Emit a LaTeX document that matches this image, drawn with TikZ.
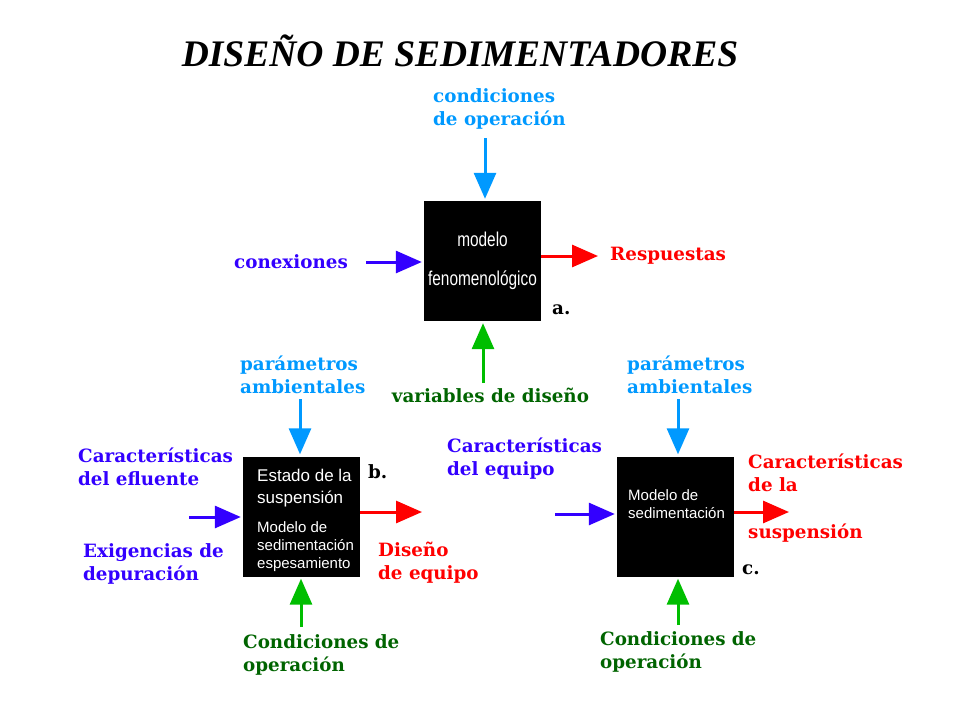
\documentclass[tikz,border=0pt]{standalone}
\usepackage{fontspec}
\usepackage{graphicx}
\setmainfont{DejaVu Serif}
\setsansfont{Liberation Sans}
\newfontfamily\titlefont{Liberation Serif}
\usetikzlibrary{arrows.meta}
\definecolor{paramColour}{RGB}{0,153,255}
\definecolor{inputColour}{RGB}{51,0,255}
\definecolor{outputColour}{RGB}{255,0,0}
\definecolor{designColour}{RGB}{0,190,0}
\definecolor{designText}{RGB}{0,100,0}
\tikzset{
	modelbox/.style={fill=black, minimum width=117pt, minimum height=120pt, inner sep=0pt},
	flow/.style={-{Triangle[length=26pt,width=22pt]}, line width=3pt, shorten >=2pt},
	lbl/.style={font=\bfseries\fontsize{18.3}{23}\selectfont, align=left, inner sep=0pt, anchor=west},
	boxtext/.style={text=white, align=left, inner sep=0pt, anchor=west}
}

\begin{document}
\begin{tikzpicture}[x=1pt, y=-1pt]
		\useasboundingbox (0,0) rectangle (960,720);

		% the title
		\node[font=\titlefont\bfseries\itshape\fontsize{37.5}{37.5}\selectfont] (title) at (460,51) {DISEÑO DE SEDIMENTADORES};

		% model a
		\node[modelbox, text=white, align=center, font=\sffamily\fontsize{20}{39}\selectfont] (boxa) at (482.5,261)
			{\scalebox{0.77}[1]{modelo}\\\scalebox{0.77}[1]{fenomenológico}};
		\node[lbl, text=paramColour] (condA) at (433,108.5) {condiciones\\ de operación};
		\node[lbl, text=inputColour] (conexA) at (234,262) {conexiones};
		\node[lbl, text=outputColour] (respA) at (610,256) {Respuestas};
		\node[lbl, text=designText, anchor=center] (varA) at (490.5,395) {variables de diseño};
		\node[lbl] (labA) at (552,310) {a.};
		\coordinate (a-top) at (485,138);
		\coordinate (a-left) at (366,262);
		\coordinate (a-right) at (598,256);
		\coordinate (a-bottom) at (483,383);
		\draw[flow, paramColour] (a-top) -- (a-top |- boxa.north);
		\draw[flow, inputColour] (a-left) -- (a-left -| boxa.west);
		\draw[flow, outputColour, shorten >=0pt] (a-right -| boxa.east) -- (a-right);
		\draw[flow, designColour] (a-bottom) -- (a-bottom |- boxa.south);

		% model b
		\node[modelbox] (boxb) at (301.5,516.5) {};
		\node[boxtext, font=\sffamily\fontsize{17}{22}\selectfont] (titleB) at (257,488) {Estado de la\\suspensión};
		\node[boxtext, font=\sffamily\fontsize{15}{18}\selectfont] (modelB) at (257,547) {Modelo de\\sedimentación\\espesamiento};
		\node[lbl, text=paramColour] (paramB) at (240,374.5) {parámetros\\ambientales};
		\node[lbl, text=inputColour] (charB) at (78,467) {Características\\del efluente};
		\node[lbl, text=inputColour] (exigB) at (83,563.5) {Exigencias de\\depuración};
		\node[lbl, text=outputColour] (disB) at (378,562.5) {Diseño\\de equipo};
		\node[lbl, text=designText] (condB) at (243,655) {Condiciones de\\operación};
		\node[lbl] (labB) at (368,472) {b.};
		\coordinate (b-top) at (300,399);
		\coordinate (b-left) at (189,517);
		\coordinate (b-right) at (422,512);
		\coordinate (b-bottom) at (301,627);
		\draw[flow, paramColour] (b-top) -- (b-top |- boxb.north);
		\draw[flow, inputColour] (b-left) -- (b-left -| boxb.west);
		\draw[flow, outputColour, shorten >=0pt] (b-right -| boxb.east) -- (b-right);
		\draw[flow, designColour] (b-bottom) -- (b-bottom |- boxb.south);

		% model c
		\node[modelbox] (boxc) at (675.5,516.5) {};
		\node[boxtext, font=\sffamily\fontsize{15}{18}\selectfont] (modelC) at (628,504) {Modelo de\\sedimentación};
		\node[lbl, text=paramColour] (paramC) at (627,374.5) {parámetros\\ambientales};
		\node[lbl, text=inputColour] (charC) at (447,459) {Características\\del equipo};
		\node[lbl, text=outputColour] (outC) at (748,498) {Características\\de la\\[24pt]suspensión};
		\node[lbl, text=designText] (condC) at (600,651.5) {Condiciones de\\operación};
		\node[lbl] (labC) at (742,570) {c.};
		\coordinate (c-top) at (678,399);
		\coordinate (c-left) at (555,514);
		\coordinate (c-right) at (789,512);
		\coordinate (c-bottom) at (678,625);
		\draw[flow, paramColour] (c-top) -- (c-top |- boxc.north);
		\draw[flow, inputColour] (c-left) -- (c-left -| boxc.west);
		\draw[flow, outputColour, shorten >=0pt] (c-right -| boxc.east) -- (c-right);
		\draw[flow, designColour] (c-bottom) -- (c-bottom |- boxc.south);
	\end{tikzpicture}
\end{document}
